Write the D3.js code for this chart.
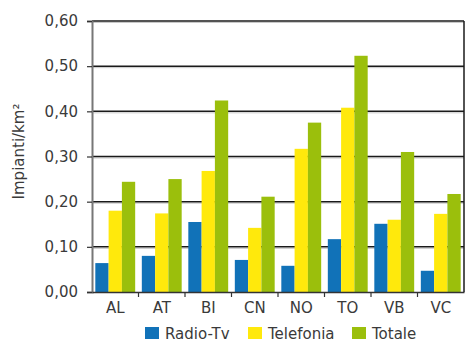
<!DOCTYPE html>
<html>
<head>
<meta charset="utf-8">
<script src="https://cdn.jsdelivr.net/npm/d3@7"></script>
<style>
  body { margin: 0; background: #fff; }
  text { font-family: "DejaVu Sans", sans-serif; fill: #3a3a3a; }
</style>
</head>
<body>
<div id="chart"></div>
<script>
// Province codes
const categories = ["AL", "AT", "BI", "CN", "NO", "TO", "VB", "VC"];
const seriesNames = ["Radio-Tv", "Telefonia", "Totale"];
const radioTv   = [0.064, 0.080, 0.155, 0.071, 0.058, 0.117, 0.151, 0.047];
const telefonia = [0.180, 0.174, 0.268, 0.142, 0.317, 0.408, 0.160, 0.173];
const totale    = [0.244, 0.250, 0.424, 0.211, 0.375, 0.523, 0.310, 0.217];
const yTicks = [0, 0.1, 0.2, 0.3, 0.4, 0.5, 0.6];
const colors = ["#1172b8", "#ffe90c", "#9bbf0c"];

const W = 466, H = 341;
const margin = { top: 21, right: 2, bottom: 49, left: 92 };
const width = W - margin.left - margin.right;
const height = H - margin.top - margin.bottom;

const svg = d3.select("#chart").append("svg")
    .attr("width", W).attr("height", H);
const g = svg.append("g")
    .attr("transform", `translate(${margin.left},${margin.top})`);

const x = d3.scaleBand().domain(categories).range([0, width]);
const xs = d3.scaleBand().domain(seriesNames)
    .range([0, x.bandwidth()]).paddingInner(0).paddingOuter(0.25);
const y = d3.scaleLinear().domain([0, 0.6]).range([height, 0]);

const fmt = d => d3.format(".2f")(d).replace(".", ",");

// gridlines with light shadow
yTicks.filter(t => t > 0).forEach(t => {
    g.append("line").attr("x1", 0).attr("x2", width)
        .attr("y1", y(t) + 1.5).attr("y2", y(t) + 1.5)
        .attr("stroke", "#c8c8c8").attr("stroke-width", 1);
    g.append("line").attr("x1", 0).attr("x2", width)
        .attr("y1", y(t)).attr("y2", y(t))
        .attr("stroke", "#1a1a1a").attr("stroke-width", 1.5);
});

// right border
g.append("line").attr("x1", width).attr("x2", width)
    .attr("y1", 0).attr("y2", height)
    .attr("stroke", "#1a1a1a").attr("stroke-width", 1.5);

// bars
const data = categories.map((c, i) => ({
    cat: c, vals: [radioTv[i], telefonia[i], totale[i]]
}));
const groups = g.selectAll(".grp").data(data).enter().append("g")
    .attr("transform", d => `translate(${x(d.cat)},0)`);
groups.selectAll("rect")
    .data(d => d.vals.map((v, k) => ({ name: seriesNames[k], v, k })))
    .enter().append("rect")
    .attr("x", d => xs(d.name))
    .attr("width", xs.bandwidth())
    .attr("y", d => y(d.v))
    .attr("height", d => height - y(d.v))
    .attr("fill", d => colors[d.k]);

// y axis
const yAxis = g.append("g")
    .call(d3.axisLeft(y).tickValues(yTicks).tickFormat(fmt).tickSize(5).tickPadding(9));
yAxis.select(".domain").attr("stroke", "#777").attr("stroke-width", 2);
yAxis.selectAll(".tick line").attr("stroke", "#333").attr("stroke-width", 1.2);
yAxis.selectAll(".tick text").style("font-size", "15px").attr("fill", "#3a3a3a");

// x axis
const xAxis = g.append("g").attr("transform", `translate(0,${height})`)
    .call(d3.axisBottom(x).tickSize(0).tickPadding(10));
xAxis.select(".domain").attr("stroke", "#333").attr("stroke-width", 1.5);
xAxis.selectAll(".tick text").style("font-size", "15px").attr("fill", "#3a3a3a");
// boundary ticks
xAxis.selectAll(".sep").data(categories.slice(1)).enter().append("line")
    .attr("x1", d => x(d)).attr("x2", d => x(d))
    .attr("y1", 0).attr("y2", 5)
    .attr("stroke", "#333").attr("stroke-width", 1.2);

// y title
svg.append("text")
    .attr("transform", `translate(24,${margin.top + height / 2 - 5}) rotate(-90)`)
    .attr("text-anchor", "middle")
    .style("font-size", "15px")
    .text("Impianti/km²");

// legend
const legendX = [145, 248, 352];
const legend = svg.selectAll(".leg").data(seriesNames).enter().append("g")
    .attr("transform", (d, i) => `translate(${legendX[i]},327)`);
legend.append("rect").attr("width", 14).attr("height", 12)
    .attr("fill", (d, i) => colors[i]);
legend.append("text").attr("x", 20).attr("y", 11.5)
    .style("font-size", "15px").text(d => d);
</script>
</body>
</html>
